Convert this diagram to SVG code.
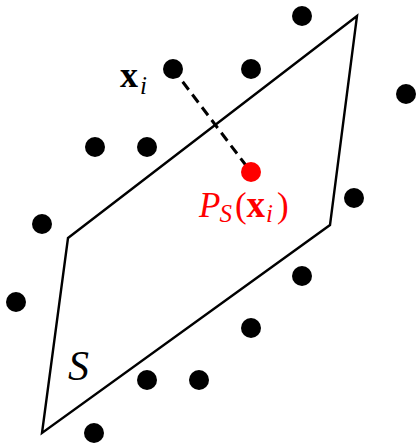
<svg xmlns="http://www.w3.org/2000/svg" width="418" height="444" viewBox="0 0 418 444">
<style>
.pt{fill:#000}
.lbl{font-family:"Liberation Serif","DejaVu Serif",serif}
</style>
<rect width="418" height="444" fill="#fff"/>
<g id="plane">
<polygon points="68,238 357,16 330,225 42,433" fill="none" stroke="#000" stroke-width="2.4" stroke-linejoin="miter"/>
<text class="lbl" x="68" y="380" font-size="42" font-style="italic">S</text>
</g>
<g id="connectors">
<line x1="173" y1="69" x2="251" y2="172" stroke="#000" stroke-width="3" stroke-dasharray="10,6"/>
</g>
<g id="points">
<circle class="pt" cx="302" cy="16" r="10"/>
<circle class="pt" cx="173" cy="69" r="10"/>
<circle class="pt" cx="251" cy="69" r="10"/>
<circle class="pt" cx="406" cy="94" r="10"/>
<circle class="pt" cx="95" cy="147" r="10"/>
<circle class="pt" cx="147" cy="147" r="10"/>
<circle class="pt" cx="354" cy="198" r="10"/>
<circle class="pt" cx="42" cy="224" r="10"/>
<circle class="pt" cx="16" cy="302" r="10"/>
<circle class="pt" cx="302" cy="276" r="10"/>
<circle class="pt" cx="251" cy="328" r="10"/>
<circle class="pt" cx="147" cy="380" r="10"/>
<circle class="pt" cx="199" cy="380" r="10"/>
<circle class="pt" cx="94" cy="433" r="10"/>
</g>
<g id="xi">
<text class="lbl" x="120" y="87" font-size="36"><tspan font-weight="bold">x</tspan><tspan font-style="italic" font-size="25" dy="7" dx="2">i</tspan></text>
</g>
<g id="proj">
<circle cx="251" cy="172" r="10" fill="#f00"/>
<text class="lbl" x="199" y="217" font-size="35" fill="#f00"><tspan font-style="italic">P</tspan><tspan font-style="italic" font-size="25" dy="5" dx="-1">S</tspan><tspan dy="-5" dx="3">(</tspan><tspan font-weight="bold" font-size="37">x</tspan><tspan font-style="italic" font-size="25" dy="5" dx="1">i</tspan><tspan dy="-5" dx="4">)</tspan></text>
</g>
</svg>
